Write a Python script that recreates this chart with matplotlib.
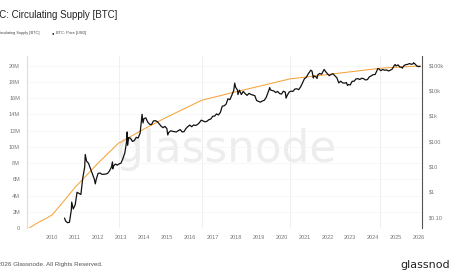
import numpy as np
import matplotlib
matplotlib.use("Agg")
import matplotlib.pyplot as plt

plt.rcParams["font.family"] = ["Liberation Sans", "DejaVu Sans"]

# -------------------------------
# Circulating supply (decimal year, BTC)
# -------------------------------
supply_dates = [2009.0, 2009.25, 2009.5, 2009.75, 2010.0, 2010.5, 2011.0, 2012.0,
                2012.91, 2013.0, 2014.0, 2015.0, 2016.0, 2016.52, 2017.0, 2018.0,
                2019.0, 2020.0, 2020.36, 2021.0, 2022.0, 2023.0, 2024.0, 2024.3,
                2025.0, 2026.0, 2026.05]
supply_values = [0.0, 0.45e6, 0.85e6, 1.2e6, 1.62e6, 3.3e6, 5.02e6, 8.0e6,
                 10.5e6, 10.6e6, 12.2e6, 13.67e6, 15.03e6, 15.75e6, 16.08e6, 16.78e6,
                 17.45e6, 18.13e6, 18.375e6, 18.59e6, 18.91e6, 19.25e6, 19.58e6, 19.69e6,
                 19.81e6, 19.97e6, 19.98e6]

# -------------------------------
# BTC price, first of each month (USD)
# -------------------------------
price_2010 = [0.09, 0.07, 0.06, 0.062, 0.19, 0.21]          # Jul - Dec
price_2011 = [0.30, 0.95, 0.86, 0.78, 3.5, 9.5, 16, 13.3, 8.2, 5.1, 3.2, 3.0]
price_2012 = [5.3, 5.5, 4.9, 4.9, 5.0, 5.3, 6.7, 9.4, 10.1, 12.4, 11.2, 12.6]
price_2013 = [13.5, 20.4, 34, 104, 139, 129, 97, 106, 141, 133, 206, 1000]
price_2014 = [770, 830, 560, 460, 450, 630, 640, 590, 480, 390, 340, 380]
price_2015 = [315, 220, 255, 245, 235, 230, 260, 285, 230, 237, 315, 375]
price_2016 = [430, 370, 435, 415, 450, 530, 670, 625, 575, 610, 700, 745]
price_2017 = [960, 970, 1190, 1080, 1350, 2400, 2480, 2870, 4700, 4340, 6450, 10000]
price_2018 = [13500, 10200, 10300, 6900, 9200, 7500, 6400, 7700, 7000, 6600, 6300, 4000]
price_2019 = [3700, 3450, 3850, 4100, 5300, 8500, 10800, 10000, 9600, 8300, 9200, 7550]
price_2020 = [7200, 9350, 8600, 6400, 8600, 9450, 9140, 11350, 11650, 10780, 13800, 19700]
price_2021 = [29000, 33100, 45200, 58800, 57700, 37300, 35000, 41500, 47100, 43800, 61300, 57000]
price_2022 = [46300, 38500, 43200, 45500, 37700, 31800, 19900, 23300, 20000, 19400, 20500, 17200]
price_2023 = [16500, 23100, 23100, 28500, 29300, 27200, 30500, 29200, 26000, 27000, 34500, 37700]
price_2024 = [42300, 42600, 61200, 71300, 60600, 67500, 62700, 64600, 59000, 63300, 70200, 96400]
price_2025 = [93400, 102400, 84300, 82500, 94200, 104600, 107100, 115700, 108200, 114000, 109500, 90400]
price_2026 = [87500]

# peaks and troughs between month starts
extreme_dates = [2010.85, 2011.44, 2011.88, 2012.63, 2012.64, 2013.27, 2013.29, 2013.92,
                 2013.96, 2015.04, 2017.96, 2018.1, 2019.49, 2020.2, 2021.28, 2021.39,
                 2021.55, 2021.86, 2022.88, 2024.2, 2024.96, 2025.27, 2025.76, 2026.04]
extreme_prices = [0.39, 29.6, 2.05, 15.0, 8.0, 230, 68, 1150,
                  520, 175, 19500, 6900, 12900, 5000, 63500, 31000,
                  29800, 67500, 15800, 73000, 106000, 76000, 124500, 89000]

year_tick_labels = [str(y) for y in range(2010, 2027)]
left_ticks = list(range(0, 21, 2))
right_ticks = [0.1, 1, 10, 100, 1000, 10000, 100000]
right_tick_labels = ["$0.10", "$1", "$10", "$100", "$1k", "$10k", "$100k"]
halving_dates = [2012.91, 2016.52, 2020.36, 2024.3]

# -------------------------------
# Build the price series
# -------------------------------
price_years = [price_2010, price_2011, price_2012, price_2013, price_2014, price_2015,
               price_2016, price_2017, price_2018, price_2019, price_2020, price_2021,
               price_2022, price_2023, price_2024, price_2025, price_2026]
px, py = [], []
for i, vals in enumerate(price_years):
    year = 2010 + i
    first_month = 6 if year == 2010 else 0
    for j, v in enumerate(vals):
        px.append(year + (first_month + j) / 12)
        py.append(v)
px[0] = 2010.54
px = px + extreme_dates
py = py + extreme_prices
order = np.argsort(px)
px = np.array(px)[order]
py = np.array(py)[order]

# -------------------------------
# Figure
# -------------------------------
fig = plt.figure(figsize=(4.5, 2.8), dpi=100)
ax = fig.add_axes([27 / 450, 1 - 228 / 280, 395 / 450, 172 / 280])
ax2 = ax.twinx()

ax.text(0.504, 0.384, "glassnode", transform=ax.transAxes, fontsize=31.5,
        color="#ededed", ha="center", va="baseline", zorder=0,
        family="DejaVu Sans")

for d in halving_dates:
    ax.axvline(d, color="#ececec", lw=0.6, zorder=1)
for t in left_ticks:
    ax.axhline(t * 1e6, color="#f4f4f4", lw=0.5, zorder=1)

ax.plot(supply_dates, supply_values, color="#f5a33a", lw=0.75, zorder=3)
ax2.plot(px, py, color="#111111", lw=0.9, zorder=3)

ax.set_xlim(2008.9, 2026.13)
ax.set_ylim(0, 21.2e6)
ax2.set_yscale("log")
ax2.set_ylim(0.037, 2.3e5)

ax.set_xticks(range(2010, 2027))
ax.set_xticklabels(year_tick_labels)
ax.set_yticks([t * 1e6 for t in left_ticks])
ax.set_yticklabels(["0"] + [f"{t}M" for t in left_ticks[1:]])
ax2.set_yticks(right_ticks)
ax2.set_yticklabels(right_tick_labels)
ax2.minorticks_off()

for a in (ax, ax2):
    a.tick_params(length=0, labelsize=4, labelcolor="#777777")
    for s in a.spines.values():
        s.set_visible(False)
ax.tick_params(axis="x", pad=5)
ax.tick_params(axis="y", pad=5)
ax2.tick_params(axis="y", pad=5)
ax.spines["left"].set_visible(True)
ax.spines["left"].set_color("#fbd9b0")
ax.spines["left"].set_linewidth(0.8)
ax2.spines["right"].set_visible(True)
ax2.spines["right"].set_color("#555555")
ax2.spines["right"].set_linewidth(0.8)

# -------------------------------
# Title, legend, footer
# -------------------------------
fig.text(-0.028, 1 - 15 / 280, "BTC: Circulating Supply [BTC]", fontsize=7,
         color="#222222", va="center")
fig.text(-0.038, 1 - 33 / 280, "●", fontsize=3, color="#f5a33a", va="center")
fig.text(-0.029, 1 - 33 / 280, "BTC: Circulating Supply [BTC]", fontsize=2.8,
         color="#444444", va="center")
fig.text(52 / 450, 1 - 33 / 280, "●", fontsize=3, color="#111111", va="center")
fig.text(56 / 450, 1 - 33 / 280, "BTC: Price [USD]", fontsize=2.8,
         color="#444444", va="center")
fig.text(-0.020, 1 - 264 / 280, "© 2026 Glassnode. All Rights Reserved.",
         fontsize=4.5, color="#555555", va="center")
fig.text(400 / 450, 1 - 265 / 280, "glassnode", fontsize=8, color="#222222",
         va="center", family="DejaVu Sans")

fig.savefig("out.png", dpi=100)
